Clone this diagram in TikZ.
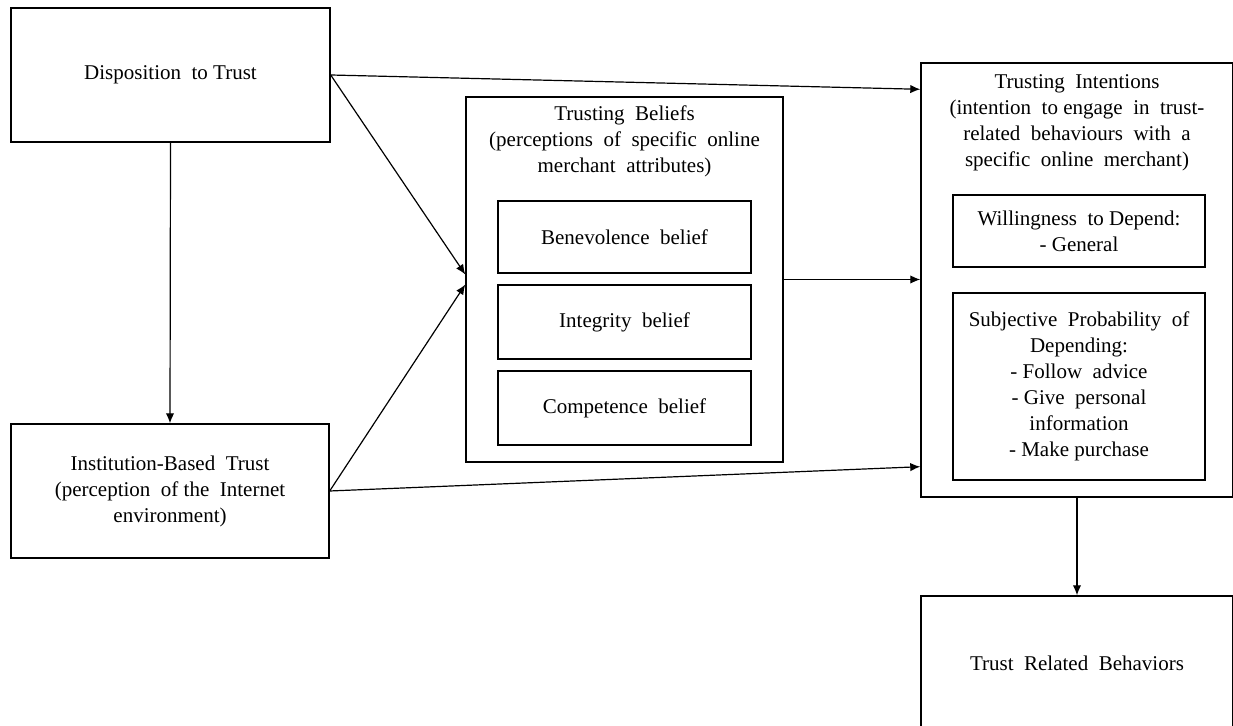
\documentclass[tikz,border=0pt]{standalone}
\usepackage{fontspec}
\setmainfont{Liberation Serif}
\usetikzlibrary{positioning,arrows.meta}

\begin{document}
\begin{tikzpicture}[x=0.5pt,y=-0.5pt,
	box/.style={draw, line width=0.7pt, inner sep=2pt, align=center, font=\fontsize{10.5}{13}\selectfont},
	txt/.style={inner sep=0pt, align=center, font=\fontsize{10.5}{13}\selectfont},
	arr/.style={-{Latex[length=5pt,width=4.2pt]}, line width=0.6pt}]
				\useasboundingbox (0,0) rectangle (1233,726);
				% left column
				\node[box, minimum width=159.5pt, minimum height=67pt] (disp) at (170.5,75) {Disposition\ \ to Trust};
				\node[box, minimum width=159pt, minimum height=67pt] (inst) at (170,491) {Institution-Based\ \ Trust\\(perception\ \ of the\ \ Internet\\environment)};
				% trusting beliefs
				\node[box, minimum width=158.5pt, minimum height=182.5pt] (tb) at (624.5,279.5) {};
				\node[txt] (tbtitle) at (624.5,141) {Trusting\ \ Beliefs\\(perceptions\ \ of\ \ specific\ \ online\\merchant\ \ attributes)};
				\node[box, minimum width=126.5pt, minimum height=36pt] (ben) at (624.5,237) {Benevolence\ \ belief};
				\node[box, minimum width=126.5pt, minimum height=37pt] (integ) at (624.5,322) {Integrity\ \ belief};
				\node[box, minimum width=126.5pt, minimum height=37pt] (comp) at (624.5,408) {Competence\ \ belief};
				% trusting intentions
				\node[box, minimum width=156pt, minimum height=217pt] (ti) at (1077,280) {};
				\node[txt] (tititle) at (1077,123) {Trusting\ \ Intentions\\(intention\ \ to engage\ \ in\ \ trust-\\related\ \ behaviours\ \ with\ \ a\\specific\ \ online\ \ merchant)};
				\node[box, minimum width=126pt, minimum height=36pt] (will) at (1079,231) {Willingness\ \ to Depend:\\- General};
				\node[box, minimum width=126pt, minimum height=93.5pt] (subj) at (1079,386.5) {Subjective\ \ Probability\ \ of\\Depending:\\- Follow\ \ advice\\- Give\ \ personal\\information\\- Make purchase};
				\node[box, minimum width=156pt, minimum height=67pt] (trb) at (1077,663) {Trust\ \ Related\ \ Behaviors};
				% connectors
				\draw[arr] (disp.south) -- (inst.north);
				\draw[arr] (disp.east) -- ([yshift=-13.5pt]ti.north west);
				\draw[arr] (disp.east) -- ([yshift=2.5pt]tb.west);
				\draw[arr] (inst.east) -- ([yshift=-2.5pt]tb.west);
				\draw[arr] (inst.east) -- ([yshift=15.5pt]ti.south west);
				\draw[arr] (tb.east) -- (tb.east -| ti.west);
				\draw[arr] (ti.south) -- (trb.north);
	\end{tikzpicture}
\end{document}
